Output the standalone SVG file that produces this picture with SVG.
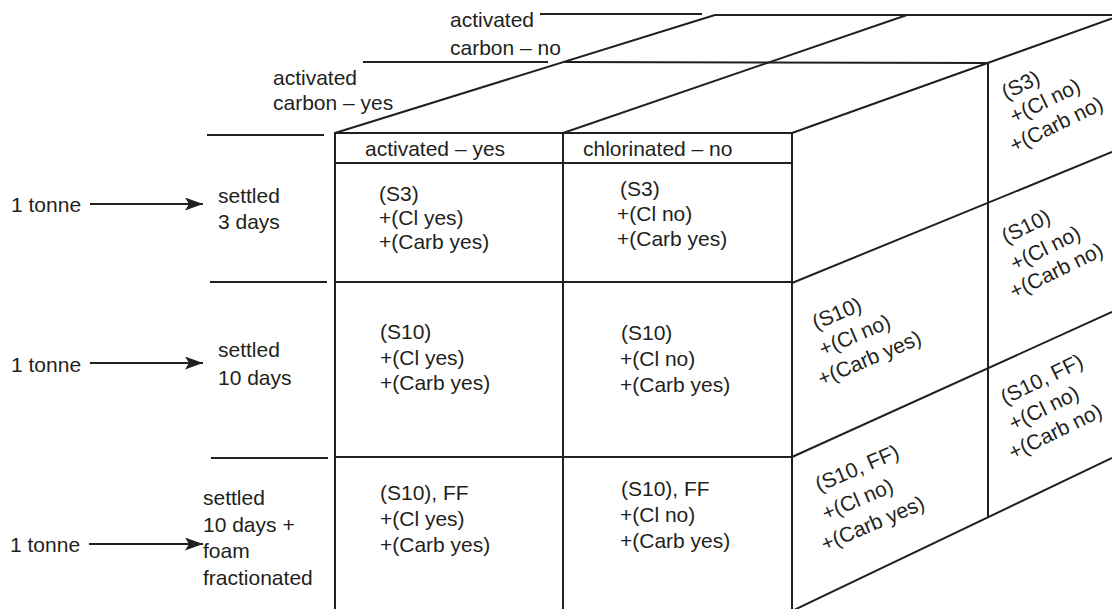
<svg xmlns="http://www.w3.org/2000/svg" width="1112" height="609" viewBox="0 0 1112 609">
<style>
  .ln{stroke:#231f20;stroke-width:2;fill:none;stroke-linecap:butt}
  text{font-family:"Liberation Sans",Arial,sans-serif;font-size:21px;fill:#231f20}
</style>
<defs>
  <marker id="ah" markerUnits="userSpaceOnUse" markerWidth="19" markerHeight="14" refX="18" refY="6.5" orient="auto">
    <path d="M0,0 L18,6.5 L0,13 L4,6.5 Z" fill="#231f20"/>
  </marker>
</defs>
<rect width="1112" height="609" fill="#ffffff"/>

<g id="cube-lines">
  <!-- front face -->
  <line class="ln" x1="334" y1="133" x2="793" y2="133"/>
  <line class="ln" x1="335" y1="163" x2="793" y2="163"/>
  <line class="ln" x1="335" y1="282" x2="793" y2="282"/>
  <line class="ln" x1="335" y1="457" x2="793" y2="457"/>
  <line class="ln" x1="335" y1="132" x2="335" y2="609"/>
  <line class="ln" x1="563" y1="133" x2="563" y2="609"/>
  <line class="ln" x1="792" y1="133" x2="792" y2="609"/>
  <!-- top face -->
  <line class="ln" x1="335" y1="133" x2="715" y2="15"/>
  <line class="ln" x1="563" y1="133" x2="907" y2="15"/>
  <line class="ln" x1="792" y1="133" x2="1112" y2="18.5"/>
  <line class="ln" x1="715" y1="15" x2="1112" y2="15"/>
  <line class="ln" x1="564" y1="62" x2="988" y2="63"/>
  <!-- right face -->
  <line class="ln" x1="988" y1="62" x2="988" y2="518"/>
  <line class="ln" x1="792" y1="283" x2="1112" y2="152"/>
  <line class="ln" x1="792" y1="457" x2="1112" y2="312"/>
  <line class="ln" x1="794" y1="610" x2="1112" y2="458"/>
  <!-- leaders -->
  <line class="ln" x1="540" y1="14" x2="702" y2="14"/>
  <line class="ln" x1="363" y1="62" x2="548" y2="62"/>
  <line class="ln" x1="207" y1="135" x2="324" y2="135"/>
  <line class="ln" x1="210" y1="282" x2="327" y2="282"/>
  <line class="ln" x1="211" y1="458" x2="328" y2="458"/>
</g>

<g id="connectors">
  <line class="ln" x1="90" y1="204" x2="203" y2="204" marker-end="url(#ah)"/>
  <line class="ln" x1="90" y1="363" x2="203" y2="363" marker-end="url(#ah)"/>
  <line class="ln" x1="89" y1="544" x2="203" y2="544" marker-end="url(#ah)"/>
</g>

<g id="top-labels">
  <text x="450" y="27">activated</text>
  <text x="450" y="55">carbon – no</text>
  <text x="273" y="85">activated</text>
  <text x="273" y="110">carbon – yes</text>
</g>

<g id="header">
  <text x="365" y="156">activated – yes</text>
  <text x="583" y="156">chlorinated – no</text>
</g>

<g id="inputs">
  <text x="11" y="212">1 tonne</text>
  <text x="11" y="372">1 tonne</text>
  <text x="10" y="552">1 tonne</text>
</g>

<g id="row-labels">
  <text x="218" y="203">settled</text>
  <text x="218" y="229">3 days</text>
  <text x="218" y="357">settled</text>
  <text x="218" y="385">10 days</text>
  <text x="203" y="505">settled</text>
  <text x="203" y="532">10 days +</text>
  <text x="203" y="558">foam</text>
  <text x="203" y="585">fractionated</text>
</g>

<g id="cell-r1c1">
  <text x="379" y="201">(S3)</text>
  <text x="379" y="225">+(Cl yes)</text>
  <text x="379" y="249">+(Carb yes)</text>
</g>
<g id="cell-r1c2">
  <text x="620" y="196">(S3)</text>
  <text x="617" y="221">+(Cl no)</text>
  <text x="617" y="246">+(Carb yes)</text>
</g>
<g id="cell-r2c1">
  <text x="380" y="339">(S10)</text>
  <text x="380" y="365">+(Cl yes)</text>
  <text x="380" y="390">+(Carb yes)</text>
</g>
<g id="cell-r2c2">
  <text x="621" y="340">(S10)</text>
  <text x="620" y="366">+(Cl no)</text>
  <text x="620" y="392">+(Carb yes)</text>
</g>
<g id="cell-r3c1">
  <text x="380" y="500">(S10), FF</text>
  <text x="380" y="526">+(Cl yes)</text>
  <text x="380" y="552">+(Carb yes)</text>
</g>
<g id="cell-r3c2">
  <text x="621" y="496">(S10), FF</text>
  <text x="620" y="522">+(Cl no)</text>
  <text x="620" y="548">+(Carb yes)</text>
</g>

<g id="side-r2" transform="translate(816,330) rotate(-23)">
  <text x="0" y="0">(S10)</text>
  <text x="-4" y="27">+(Cl no)</text>
  <text x="-17" y="54">+(Carb yes)</text>
</g>
<g id="side-r3" transform="translate(819,492) rotate(-23)">
  <text x="0" y="0">(S10, FF)</text>
  <text x="-5" y="29">+(Cl no)</text>
  <text x="-18" y="57">+(Carb yes)</text>
</g>
<g id="back-r1" transform="translate(1006,100) rotate(-26)">
  <text x="0" y="0">(S3)</text>
  <text x="-3" y="25">+(Cl no)</text>
  <text x="-16" y="51">+(Carb no)</text>
</g>
<g id="back-r2" transform="translate(1006,244) rotate(-26)">
  <text x="0" y="0">(S10)</text>
  <text x="-4" y="28">+(Cl no)</text>
  <text x="-17" y="53">+(Carb no)</text>
</g>
<g id="back-r3" transform="translate(1005,405) rotate(-26)">
  <text x="0" y="0">(S10, FF)</text>
  <text x="-4" y="27">+(Cl no)</text>
  <text x="-17" y="53">+(Carb no)</text>
</g>
</svg>
